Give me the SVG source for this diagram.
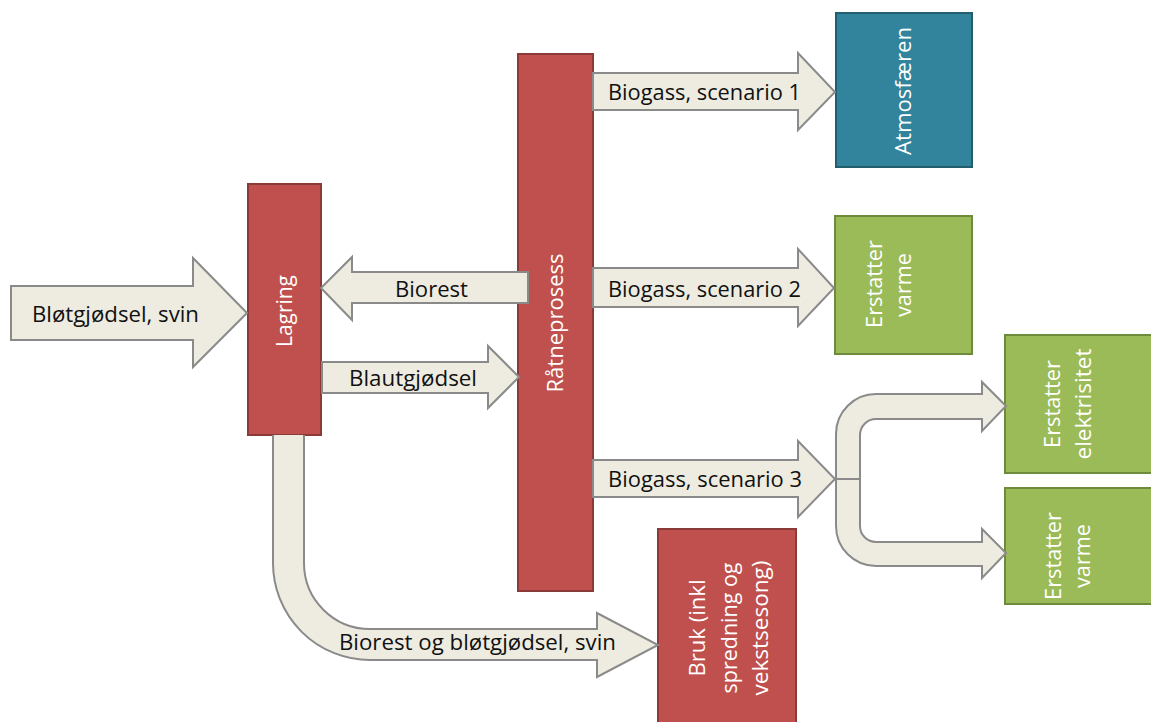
<svg xmlns="http://www.w3.org/2000/svg" width="1151" height="722" viewBox="0 0 1151 722">
<style>
.red{fill:#C0504D;stroke:#8C3A37;stroke-width:2}
.green{fill:#9BBB59;stroke:#6E8A3C;stroke-width:2}
.teal{fill:#31849B;stroke:#215E6E;stroke-width:2}
.arr{fill:#EEECE1;stroke:#8A8A8A;stroke-width:2;stroke-linejoin:miter}
.lbl{font-family:"Open Sans","Liberation Sans",sans-serif;font-size:22px;fill:#111}
.wl{font-family:"Open Sans","Liberation Sans",sans-serif;font-size:21px;fill:#fff;text-anchor:middle}
</style>
<rect width="1151" height="722" fill="#fff"/>
<g id="lagring">
<rect class="red" x="248" y="184" width="73" height="251"/>
<text class="wl" transform="translate(292,311) rotate(-90)" textLength="72" lengthAdjust="spacingAndGlyphs">Lagring</text>
</g>
<g id="ratneprosess">
<rect class="red" x="518" y="54" width="75" height="537"/>
<text class="wl" transform="translate(563,323) rotate(-90)" textLength="139" lengthAdjust="spacingAndGlyphs">Råtneprosess</text>
</g>
<g id="atmosfaeren">
<rect class="teal" x="836" y="13" width="136" height="154"/>
<text class="wl" transform="translate(911,91) rotate(-90)" textLength="128" lengthAdjust="spacingAndGlyphs">Atmosfæren</text>
</g>
<g id="varme1">
<rect class="green" x="835" y="216" width="137" height="138"/>
<text class="wl" transform="translate(882,284) rotate(-90)" textLength="88" lengthAdjust="spacingAndGlyphs">Erstatter</text>
<text class="wl" transform="translate(911,285) rotate(-90)" textLength="64" lengthAdjust="spacingAndGlyphs">varme</text>
</g>
<g id="elektrisitet">
<rect class="green" x="1005" y="335" width="152" height="138"/>
<text class="wl" transform="translate(1060,404) rotate(-90)" textLength="88" lengthAdjust="spacingAndGlyphs">Erstatter</text>
<text class="wl" transform="translate(1091,404) rotate(-90)" textLength="111" lengthAdjust="spacingAndGlyphs">elektrisitet</text>
</g>
<g id="varme2">
<rect class="green" x="1005" y="488" width="152" height="116"/>
<text class="wl" transform="translate(1061,556) rotate(-90)" textLength="88" lengthAdjust="spacingAndGlyphs">Erstatter</text>
<text class="wl" transform="translate(1090,556) rotate(-90)" textLength="64" lengthAdjust="spacingAndGlyphs">varme</text>
</g>
<g id="bruk">
<rect class="red" x="658" y="529" width="138" height="200"/>
<text class="wl" transform="translate(705,628) rotate(-90)" textLength="97" lengthAdjust="spacingAndGlyphs">Bruk (inkl</text>
<text class="wl" transform="translate(737,628) rotate(-90)" textLength="131" lengthAdjust="spacingAndGlyphs">spredning og</text>
<text class="wl" transform="translate(768,628) rotate(-90)" textLength="135" lengthAdjust="spacingAndGlyphs">vekstsesong)</text>
</g>
<g id="connectors">
<polygon class="arr" points="11,286 193,286 193,258 247,313 193,367 193,340 11,340"/>
<text class="lbl" x="32" y="322" textLength="167" lengthAdjust="spacingAndGlyphs">Bløtgjødsel, svin</text>
<polygon class="arr" points="528,272 352,272 352,257 321,288 352,320 352,303 528,303"/>
<text class="lbl" x="395" y="297" textLength="73" lengthAdjust="spacingAndGlyphs">Biorest</text>
<polygon class="arr" points="322,362 488,362 488,346 519,377 488,408 488,393 322,393"/>
<text class="lbl" x="349" y="386" textLength="128" lengthAdjust="spacingAndGlyphs">Blautgjødsel</text>
<polygon class="arr" points="593,73 798,73 798,53 835,92 798,130 798,110 593,110"/>
<text class="lbl" x="608" y="100" textLength="193" lengthAdjust="spacingAndGlyphs">Biogass, scenario 1</text>
<polygon class="arr" points="593,268 798,268 798,249 834,288 798,326 798,307 593,307"/>
<text class="lbl" x="608" y="297" textLength="193" lengthAdjust="spacingAndGlyphs">Biogass, scenario 2</text>
<polygon class="arr" points="593,460 798,460 798,441 835,479 798,517 798,497 593,497"/>
<text class="lbl" x="608" y="487" textLength="194" lengthAdjust="spacingAndGlyphs">Biogass, scenario 3</text>
<path class="arr" d="M836,479 L836,434 A40,40 0 0 1 876,394 L982,394 L982,382 L1006,406 L982,431 L982,419 L876,419 A16,16 0 0 0 860,435 L860,479 Z"/>
<path class="arr" d="M836,479 L836,526 A40,40 0 0 0 876,566 L982,566 L982,578 L1006,553 L982,529 L982,542 L876,542 A16,16 0 0 1 860,526 L860,479 Z"/>
<path class="arr" d="M273,435 L273,563 A97,97 0 0 0 370,660 L597,660 L597,677 L658,645 L597,613 L597,629 L370,629 A66,66 0 0 1 304,563 L304,435"/>
<text class="lbl" x="339" y="650" textLength="277" lengthAdjust="spacingAndGlyphs">Biorest og bløtgjødsel, svin</text>
</g>
</svg>
